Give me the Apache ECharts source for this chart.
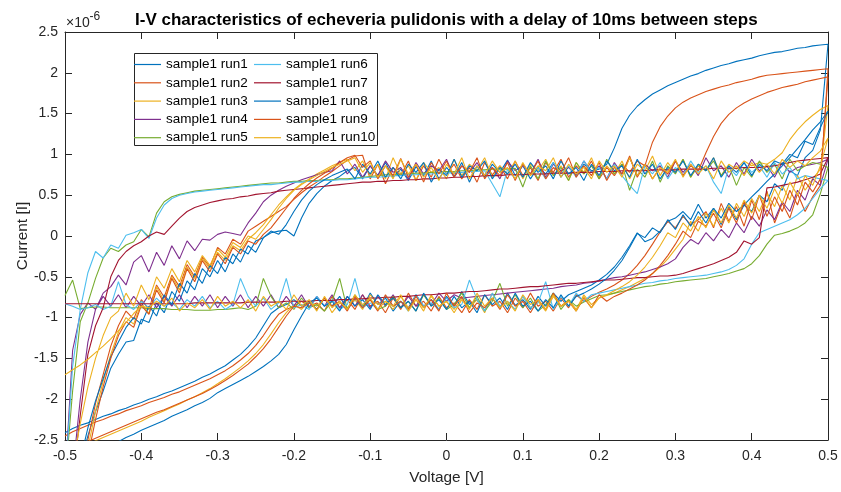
<!DOCTYPE html>
<html>
<head>
<meta charset="utf-8">
<title>I-V characteristics</title>
<script src="https://cdn.jsdelivr.net/npm/echarts@6/dist/echarts.min.js"></script>
<style>
  html, body { margin: 0; padding: 0; background: #fff; }
  #chart { width: 841px; height: 492px; }
</style>
</head>
<body>
<div id="chart"></div>
<script>
// Sweep voltage steps [V]; the forward sweep walks this list upward,
// the reverse sweep walks it back down.
const voltageSteps = [
  -0.50, -0.49, -0.48, -0.47, -0.46, -0.45, -0.44, -0.43, -0.42, -0.41,
  -0.40, -0.39, -0.38, -0.37, -0.36, -0.35, -0.34, -0.33, -0.32, -0.31,
  -0.30, -0.29, -0.28, -0.27, -0.26, -0.25, -0.24, -0.23, -0.22, -0.21,
  -0.20, -0.19, -0.18, -0.17, -0.16, -0.15, -0.14, -0.13, -0.12, -0.11,
  -0.10, -0.09, -0.08, -0.07, -0.06, -0.05, -0.04, -0.03, -0.02, -0.01,
   0.00,  0.01,  0.02,  0.03,  0.04,  0.05,  0.06,  0.07,  0.08,  0.09,
   0.10,  0.11,  0.12,  0.13,  0.14,  0.15,  0.16,  0.17,  0.18,  0.19,
   0.20,  0.21,  0.22,  0.23,  0.24,  0.25,  0.26,  0.27,  0.28,  0.29,
   0.30,  0.31,  0.32,  0.33,  0.34,  0.35,  0.36,  0.37,  0.38,  0.39,
   0.40,  0.41,  0.42,  0.43,  0.44,  0.45,  0.46,  0.47,  0.48,  0.49, 0.50
];

const runNames = [
  'sample1 run1', 'sample1 run2', 'sample1 run3', 'sample1 run4', 'sample1 run5',
  'sample1 run6', 'sample1 run7', 'sample1 run8', 'sample1 run9', 'sample1 run10'
];

// Measured current in units of 1e-6 A.
// *Up: forward sweep (-0.5 V -> 0.5 V), *Down: reverse sweep (0.5 V -> -0.5 V).
const run1Up = [
  -3.00, -3.00, -2.80, -2.45, -2.15, -1.90, -1.62, -1.45, -1.30, -1.28,
  -1.02, -1.06, -0.82, -0.94, -0.68, -0.80, -0.55, -0.66, -0.40, -0.50,
  -0.30, -0.44, -0.22, -0.32, -0.12, -0.20, -0.02,  0.04,  0.06,  0.07,
   0.00,  0.22,  0.40,  0.52,  0.61,  0.68,  0.73,  0.80,  0.84,  0.70,
   0.86,  0.74,  0.90,  0.72,  0.82,  0.68,  0.85,  0.74,  0.92,  0.70,
   0.84,  0.73,  0.90,  0.66,  0.86,  0.72,  0.88,  0.78,  0.93,  0.74,
   0.86,  0.70,  0.84,  0.76,  0.90,  0.72,  0.85,  0.74,  0.88,  0.80,
   0.82,  0.88,  1.08,  1.32,  1.48,  1.59,  1.67,  1.74,  1.79,  1.84,
   1.88,  1.92,  1.96,  1.99,  2.03,  2.06,  2.09,  2.11,  2.14,  2.16,
   2.18,  2.21,  2.23,  2.25,  2.26,  2.28,  2.30,  2.31,  2.33,  2.34, 2.35
];
const run1Down = [
   2.35,  1.30,  1.05,  0.96,  0.74,  0.80,  0.56,  0.64,  0.42,  0.50,
   0.30,  0.38,  0.20,  0.36,  0.14,  0.34,  0.22,  0.39,  0.20,  0.30,
   0.22,  0.18,  0.06, -0.03, -0.07,  0.04, -0.12, -0.26, -0.38, -0.47,
  -0.54, -0.60, -0.64, -0.68, -0.72, -0.80, -0.70, -0.86, -0.74, -0.90,
  -0.78, -0.85, -0.70, -0.88, -0.76, -0.92, -0.78, -0.84, -0.68, -0.86,
  -0.74, -0.90, -0.78, -0.86, -0.72, -0.88, -0.80, -0.92, -0.76, -0.84,
  -0.70, -0.88, -0.78, -0.90, -0.74, -0.86, -0.76, -0.90, -0.80, -0.86,
  -0.78, -0.84, -0.88, -0.95, -1.10, -1.25, -1.36, -1.45, -1.52, -1.59,
  -1.64, -1.69, -1.73, -1.78, -1.82, -1.86, -1.90, -1.93, -1.97, -2.00,
  -2.04, -2.07, -2.11, -2.14, -2.18, -2.21, -2.25, -2.29, -2.32, -2.36, -2.41
];

const run2Up = [
  -3.00, -3.00, -2.90, -2.50, -2.05, -1.70, -1.35, -1.10, -0.92, -1.02,
  -0.78, -0.90, -0.60, -0.75, -0.48, -0.62, -0.35, -0.50, -0.26, -0.38,
  -0.14, -0.22, -0.04, -0.10,  0.06,  0.12,  0.18,  0.24,  0.30,  0.36,
   0.45,  0.53,  0.60,  0.66,  0.73,  0.79,  0.86,  0.93,  0.98,  0.99,
   0.70,  0.88,  0.64,  0.84,  0.74,  0.92,  0.68,  0.86,  0.72,  0.94,
   0.76,  0.88,  0.70,  0.84,  0.66,  0.90,  0.75,  0.86,  0.70,  0.92,
   0.74,  0.84,  0.68,  0.90,  0.78,  0.94,  0.72,  0.86,  0.76,  0.92,
   0.70,  0.84,  0.74,  0.88,  0.78,  0.92,  0.86,  1.15,  1.34,  1.47,
   1.57,  1.64,  1.69,  1.73,  1.77,  1.80,  1.83,  1.85,  1.88,  1.90,
   1.92,  1.95,  1.97,  1.98,  1.99,  2.00,  2.01,  2.02,  2.03,  2.04, 2.05
];
const run2Down = [
   2.05,  0.62,  0.48,  0.30,  0.52,  0.22,  0.40,  0.16,  0.55,  0.20,
   0.44,  0.12,  0.36,  0.18,  0.40,  0.10,  0.30,  0.20,  0.14,  0.24,
   0.10,  0.18,  0.05, -0.10, -0.24, -0.36, -0.46, -0.54, -0.60, -0.65,
  -0.69, -0.74, -0.80, -0.72, -0.88, -0.76, -0.92, -0.80, -0.86, -0.70,
  -0.88, -0.76, -0.94, -0.80, -0.86, -0.72, -0.90, -0.78, -0.94, -0.82,
  -0.88, -0.74, -0.92, -0.80, -0.86, -0.70, -0.90, -0.76, -0.94, -0.80,
  -0.86, -0.72, -0.90, -0.78, -0.88, -0.74, -0.92, -0.82, -0.86, -0.80,
  -0.86, -0.90, -0.96, -1.08, -1.22, -1.34, -1.44, -1.52, -1.59, -1.65,
  -1.70, -1.75, -1.79, -1.83, -1.87, -1.91, -1.94, -1.98, -2.01, -2.04,
  -2.08, -2.11, -2.14, -2.18, -2.21, -2.25, -2.28, -2.32, -2.36, -2.40, -2.45
];

const run3Up = [
  -3.00, -3.00, -3.00, -2.60, -2.15, -1.78, -1.45, -1.18, -1.00, -1.08,
  -0.82, -0.95, -0.62, -0.80, -0.50, -0.66, -0.38, -0.52, -0.28, -0.40,
  -0.20, -0.30, -0.12, -0.18, -0.04,  0.04,  0.14,  0.26,  0.38,  0.48,
   0.57,  0.64,  0.70,  0.76,  0.81,  0.86,  0.90,  0.94,  0.80,  0.92,
   0.74,  0.88,  0.70,  0.96,  0.76,  0.86,  0.68,  0.90,  0.78,  0.84,
   0.70,  0.94,  0.74,  0.88,  0.80,  0.96,  0.72,  0.86,  0.76,  0.92,
   0.70,  0.88,  0.80,  0.94,  0.74,  0.86,  0.68,  0.90,  0.78,  0.96,
   0.72,  0.86,  0.76,  0.92,  0.70,  0.88,  0.80,  0.98,  0.74,  0.90,
   0.78,  0.94,  0.72,  0.86,  0.80,  0.96,  0.74,  0.88,  0.82,  0.92,
   0.86,  0.90,  0.88,  0.94,  1.02,  1.18,  1.30,  1.40,  1.48,  1.55, 1.60
];
const run3Down = [
   1.60,  0.82,  0.70,  0.56,  0.74,  0.44,  0.62,  0.36,  0.52,  0.30,
   0.46,  0.24,  0.40,  0.16,  0.34,  0.12,  0.28,  0.06,  0.18, -0.04,
  -0.16, -0.28, -0.38, -0.46, -0.52, -0.57, -0.62, -0.66, -0.70, -0.73,
  -0.76, -0.84, -0.72, -0.90, -0.78, -0.86, -0.74, -0.92, -0.80, -0.88,
  -0.74, -0.90, -0.82, -0.86, -0.70, -0.94, -0.78, -0.88, -0.76, -0.90,
  -0.80, -0.86, -0.72, -0.92, -0.78, -0.88, -0.74, -0.90, -0.80, -0.84,
  -0.72, -0.90, -0.78, -0.88, -0.82, -0.94, -0.76, -0.86, -0.80, -0.90,
  -0.84, -0.94, -1.06, -1.20, -1.33, -1.44, -1.53, -1.61, -1.68, -1.75,
  -1.81, -1.87, -1.92, -1.97, -2.01, -2.06, -2.10, -2.14, -2.18, -2.22,
  -2.27, -2.31, -2.35, -2.39, -2.43, -2.47, -2.51, -2.56, -2.60, -2.65, -2.70
];

const run4Up = [
  -3.00, -2.90, -2.00, -1.30, -0.90, -0.70, -0.62, -0.48, -0.60, -0.32,
  -0.24, -0.44, -0.20, -0.36, -0.12, -0.28, -0.06, -0.18, -0.04, -0.05,
   0.02,  0.05,  0.03,  0.01,  0.16,  0.28,  0.42,  0.50,  0.56,  0.61,
   0.65,  0.69,  0.72,  0.75,  0.78,  0.80,  0.92,  0.76,  0.88,  0.72,
   0.86,  0.74,  0.92,  0.78,  0.84,  0.70,  0.90,  0.76,  0.86,  0.80,
   0.94,  0.72,  0.86,  0.78,  0.90,  0.74,  0.84,  0.70,  0.92,  0.80,
   0.86,  0.76,  0.94,  0.72,  0.88,  0.80,  0.84,  0.74,  0.92,  0.78,
   0.86,  0.70,  0.90,  0.76,  0.96,  0.74,  0.88,  0.80,  0.86,  0.72,
   0.92,  0.78,  0.88,  0.74,  0.96,  0.80,  0.86,  0.72,  0.90,  0.76,
   0.94,  0.80,  0.86,  0.72,  0.90,  0.78,  0.84,  0.86,  0.88,  0.90, 0.94
];
const run4Down = [
   0.94,  0.62,  0.70,  0.44,  0.56,  0.30,  0.42,  0.20,  0.32,  0.12,
   0.24,  0.04,  0.16, -0.02,  0.08, -0.06,  0.04, -0.10, -0.04, -0.14,
  -0.28, -0.34, -0.38, -0.41, -0.44, -0.46, -0.48, -0.50, -0.51, -0.53,
  -0.55, -0.57, -0.58, -0.60, -0.61, -0.62, -0.64, -0.65, -0.66, -0.67,
  -0.68, -0.69, -0.70, -0.71, -0.72, -0.73, -0.74, -0.75, -0.76, -0.72,
  -0.80, -0.70, -0.84, -0.72, -0.86, -0.74, -0.88, -0.72, -0.86, -0.74,
  -0.88, -0.72, -0.86, -0.74, -0.88, -0.72, -0.86, -0.74, -0.88, -0.72,
  -0.86, -0.74, -0.88, -0.72, -0.86, -0.74, -0.88, -0.72, -0.86, -0.74,
  -0.88, -0.72, -0.86, -0.74, -0.88, -0.72, -0.86, -0.74, -0.88, -0.72,
  -0.86, -0.74, -0.88, -0.72, -0.86, -0.74, -0.90, -0.82, -0.96, -1.40, -3.00
];

const run5Up = [
  -3.00, -1.90, -1.05, -0.82, -0.52, -0.27, -0.15, -0.19, -0.11, -0.07,
   0.08, -0.01,  0.28,  0.42,  0.48,  0.51,  0.53,  0.55,  0.56,  0.57,
   0.58,  0.59,  0.60,  0.61,  0.62,  0.63,  0.64,  0.65,  0.65,  0.66,
   0.67,  0.67,  0.68,  0.68,  0.69,  0.69,  0.70,  0.70,  0.71,  0.72,
   0.73,  0.74,  0.75,  0.75,  0.76,  0.76,  0.77,  0.77,  0.78,  0.78,
   0.79,  0.79,  0.80,  0.80,  0.81,  0.81,  0.82,  0.82,  0.82,  0.83,
   0.60,  0.86,  0.70,  0.92,  0.74,  0.84,  0.68,  0.90,  0.76,  0.86,
   0.70,  0.94,  0.76,  0.88,  0.56,  0.82,  0.72,  0.92,  0.66,  0.86,
   0.76,  0.94,  0.72,  0.88,  0.80,  0.92,  0.74,  0.86,  0.62,  0.84,
   0.72,  0.92,  0.78,  0.88,  0.70,  0.94,  0.80,  0.86,  0.90,  0.88, 0.84
];
const run5Down = [
   0.84,  0.52,  0.26,  0.16,  0.10,  0.06,  0.03,  0.01, -0.10, -0.24,
  -0.34, -0.40, -0.43, -0.46, -0.48, -0.50, -0.52, -0.53, -0.54, -0.55,
  -0.56, -0.58, -0.59, -0.61, -0.62, -0.64, -0.66, -0.68, -0.70, -0.72,
  -0.73, -0.77, -0.81, -0.86, -0.78, -0.90, -0.70, -0.84, -0.92, -0.76,
  -0.88, -0.72, -0.86, -0.58, -0.80, -0.92, -0.74, -0.88, -0.70, -0.84,
  -0.90, -0.76, -0.86, -0.72, -0.92, -0.80, -0.88, -0.74, -0.86, -0.90,
  -0.78, -0.86, -0.72, -0.90, -0.52, -0.80, -0.92, -0.84, -0.88, -0.76,
  -0.90, -0.82, -0.88, -0.74, -0.52, -0.86, -0.90, -0.88, -0.89, -0.90,
  -0.90, -0.91, -0.91, -0.91, -0.90, -0.90, -0.90, -0.89, -0.89, -0.89,
  -0.88, -0.88, -0.88, -0.88, -0.88, -0.87, -0.87, -0.88, -0.89, -0.54, -0.73
];

const run6Up = [
  -3.00, -1.60, -0.90, -0.45, -0.19, -0.27, -0.11, -0.15,  0.01,  0.04,
   0.08, -0.03,  0.22,  0.38,  0.46,  0.50,  0.52,  0.54,  0.55,  0.56,
   0.57,  0.58,  0.59,  0.60,  0.61,  0.62,  0.63,  0.63,  0.64,  0.65,
   0.66,  0.66,  0.67,  0.67,  0.68,  0.68,  0.69,  0.69,  0.70,  0.71,
   0.72,  0.72,  0.73,  0.74,  0.74,  0.75,  0.75,  0.76,  0.76,  0.77,
   0.77,  0.78,  0.78,  0.79,  0.79,  0.80,  0.64,  0.48,  0.82,  0.70,
   0.88,  0.74,  0.84,  0.70,  0.90,  0.76,  0.86,  0.72,  0.92,  0.78,
   0.84,  0.70,  0.88,  0.74,  0.62,  0.52,  0.86,  0.76,  0.90,  0.70,
   0.84,  0.74,  0.92,  0.78,  0.86,  0.66,  0.52,  0.84,  0.74,  0.90,
   0.78,  0.86,  0.72,  0.90,  0.76,  0.84,  0.70,  0.74,  0.72,  0.70, 0.68
];
const run6Down = [
   0.68,  0.58,  0.46,  0.34,  0.26,  0.20,  0.16,  0.12,  0.08,  0.04,
  -0.10, -0.28, -0.36, -0.41, -0.44, -0.46, -0.48, -0.49, -0.50, -0.51,
  -0.52, -0.54, -0.55, -0.57, -0.58, -0.60, -0.62, -0.64, -0.66, -0.68,
  -0.70, -0.72, -0.80, -0.70, -0.86, -0.74, -0.90, -0.56, -0.82, -0.88,
  -0.74, -0.90, -0.80, -0.86, -0.70, -0.92, -0.78, -0.54, -0.84, -0.88,
  -0.76, -0.90, -0.82, -0.86, -0.72, -0.92, -0.80, -0.86, -0.74, -0.90,
  -0.82, -0.88, -0.52, -0.84, -0.90, -0.78, -0.86, -0.74, -0.90, -0.84,
  -0.88, -0.52, -0.82, -0.90, -0.76, -0.86, -0.74, -0.52, -0.84, -0.90,
  -0.80, -0.88, -0.74, -0.86, -0.78, -0.90, -0.82, -0.86, -0.76, -0.88,
  -0.80, -0.90, -0.84, -0.56, -0.86, -0.90, -0.84, -0.88, -0.90, -0.86, -0.83
];

const run7Up = [
  -3.00, -3.00, -2.20, -1.45, -1.10, -0.88, -0.50, -0.30, -0.19, -0.12,
  -0.07,  0.00,  0.05,  0.02,  0.12,  0.22,  0.30,  0.35,  0.38,  0.41,
   0.43,  0.45,  0.46,  0.48,  0.49,  0.51,  0.52,  0.53,  0.55,  0.56,
   0.57,  0.58,  0.59,  0.60,  0.61,  0.62,  0.63,  0.64,  0.65,  0.66,
   0.66,  0.67,  0.67,  0.68,  0.68,  0.69,  0.69,  0.70,  0.70,  0.71,
   0.71,  0.72,  0.72,  0.73,  0.73,  0.74,  0.74,  0.74,  0.75,  0.75,
   0.75,  0.76,  0.76,  0.76,  0.77,  0.77,  0.77,  0.78,  0.78,  0.78,
   0.79,  0.79,  0.79,  0.80,  0.80,  0.80,  0.80,  0.81,  0.81,  0.81,
   0.81,  0.82,  0.82,  0.82,  0.82,  0.83,  0.83,  0.83,  0.83,  0.84,
   0.84,  0.84,  0.85,  0.86,  0.88,  0.90,  0.92,  0.93,  0.94,  0.95, 0.96
];
const run7Down = [
   0.96,  0.76,  0.72,  0.69,  0.66,  0.64,  0.62,  0.60,  0.59, -0.02,
  -0.10, -0.06, -0.20, -0.26, -0.30, -0.34, -0.37, -0.40, -0.43, -0.46,
  -0.48, -0.49, -0.49, -0.50, -0.51, -0.51, -0.52, -0.53, -0.54, -0.54,
  -0.55, -0.56, -0.57, -0.58, -0.58, -0.59, -0.60, -0.61, -0.62, -0.62,
  -0.63, -0.64, -0.65, -0.65, -0.66, -0.67, -0.68, -0.68, -0.69, -0.70,
  -0.70, -0.71, -0.72, -0.72, -0.73, -0.74, -0.74, -0.75, -0.75, -0.76,
  -0.76, -0.77, -0.77, -0.78, -0.78, -0.79, -0.79, -0.79, -0.80, -0.80,
  -0.80, -0.80, -0.81, -0.81, -0.81, -0.81, -0.81, -0.82, -0.82, -0.82,
  -0.82, -0.82, -0.82, -0.82, -0.83, -0.83, -0.83, -0.83, -0.83, -0.83,
  -0.83, -0.83, -0.83, -0.83, -0.83, -0.83, -0.83, -0.83, -0.83, -0.83, -0.83
];

const run8Up = [
  -3.00, -3.00, -2.75, -2.35, -2.02, -1.75, -1.48, -1.30, -1.12, -1.00,
  -1.08, -0.86, -0.98, -0.72, -0.84, -0.58, -0.70, -0.46, -0.58, -0.36,
  -0.46, -0.26, -0.34, -0.16, -0.22, -0.06, -0.02,  0.06,  0.02,  0.14,
   0.30,  0.44,  0.55,  0.63,  0.69,  0.74,  0.78,  0.82,  0.70,  0.88,
   0.76,  0.92,  0.72,  0.84,  0.70,  0.88,  0.78,  0.90,  0.66,  0.82,
   0.74,  0.94,  0.72,  0.86,  0.80,  0.92,  0.70,  0.84,  0.76,  0.88,
   0.72,  0.90,  0.78,  0.86,  0.70,  0.92,  0.76,  0.84,  0.68,  0.88,
   0.74,  0.92,  0.80,  0.86,  0.72,  0.94,  0.76,  0.88,  0.70,  0.84,
   0.78,  0.92,  0.74,  0.88,  0.80,  0.96,  0.72,  0.86,  0.78,  0.90,
   0.74,  0.88,  0.80,  0.92,  0.88,  1.00,  0.96,  1.16,  1.12,  1.33, 1.53
];
const run8Down = [
   1.53,  1.40,  1.30,  1.18,  1.07,  0.96,  0.86,  0.76,  0.67,  0.57,
   0.48,  0.38,  0.30,  0.40,  0.22,  0.34,  0.16,  0.30,  0.12,  0.26,
   0.08,  0.20,  0.04,  0.10, -0.02,  0.03, -0.14, -0.30, -0.42, -0.52,
  -0.59, -0.65, -0.70, -0.74, -0.86, -0.72, -0.88, -0.78, -0.92, -0.80,
  -0.86, -0.70, -0.90, -0.76, -0.84, -0.72, -0.94, -0.80, -0.88, -0.74,
  -0.90, -0.78, -0.86, -0.70, -0.92, -0.80, -0.88, -0.76, -0.84, -0.72,
  -0.90, -0.78, -0.86, -0.74, -0.92, -0.80, -0.86, -0.76, -0.82, -0.98,
  -1.15, -1.33, -1.45, -1.53, -1.60, -1.66, -1.72, -1.77, -1.82, -1.87,
  -1.92, -1.99, -2.04, -2.08, -2.13, -2.17, -2.21, -2.26, -2.30, -2.34,
  -2.38, -2.43, -2.47, -2.52, -2.56, -2.60, -2.64, -2.68, -2.72, -2.76, -2.80
];

const run9Up = [
  -3.00, -3.00, -3.00, -2.70, -2.25, -1.85, -1.50, -1.22, -1.05, -1.12,
  -0.85, -0.96, -0.66, -0.82, -0.52, -0.70, -0.40, -0.56, -0.30, -0.44,
  -0.22, -0.34, -0.14, -0.22, -0.06, -0.10,  0.02,  0.10,  0.22,  0.34,
   0.46,  0.56,  0.64,  0.71,  0.77,  0.83,  0.90,  0.96,  0.99,  0.84,
   0.92,  0.70,  0.86,  0.74,  0.95,  0.72,  0.88,  0.66,  0.90,  0.76,
   0.92,  0.72,  0.86,  0.78,  0.96,  0.70,  0.84,  0.74,  0.90,  0.68,
   0.88,  0.76,  0.92,  0.70,  0.84,  0.78,  0.96,  0.72,  0.86,  0.74,
   0.90,  0.68,  0.84,  0.76,  0.98,  0.72,  0.88,  0.70,  0.84,  0.76,
   0.92,  0.74,  0.86,  0.80,  1.02,  1.22,  1.38,  1.49,  1.57,  1.63,
   1.68,  1.72,  1.76,  1.79,  1.82,  1.84,  1.86,  1.89,  1.91,  1.93, 1.95
];
const run9Down = [
   1.95,  0.70,  0.54,  0.66,  0.38,  0.56,  0.30,  0.48,  0.24,  0.50,
   0.20,  0.42,  0.16,  0.34,  0.10,  0.28,  0.12,  0.18, -0.02,  0.06,
  -0.10, -0.24, -0.36, -0.46, -0.54, -0.60, -0.65, -0.70, -0.74, -0.80,
  -0.72, -0.88, -0.76, -0.92, -0.80, -0.86, -0.70, -0.90, -0.78, -0.94,
  -0.80, -0.86, -0.72, -0.90, -0.76, -0.88, -0.82, -0.94, -0.74, -0.86,
  -0.70, -0.92, -0.78, -0.88, -0.74, -0.90, -0.80, -0.86, -0.72, -0.92,
  -0.78, -0.88, -0.74, -0.92, -0.80, -0.86, -0.76, -0.90, -0.82, -0.88,
  -0.86, -0.98, -1.12, -1.26, -1.38, -1.48, -1.57, -1.64, -1.71, -1.77,
  -1.83, -1.88, -1.93, -1.97, -2.01, -2.05, -2.09, -2.13, -2.16, -2.20,
  -2.24, -2.28, -2.32, -2.36, -2.40, -2.44, -2.48, -2.52, -2.56, -2.60, -2.64
];

const run10Up = [
  -3.00, -2.80, -2.30, -1.85, -1.50, -1.22, -1.00, -0.92, -0.70, -0.86,
  -0.60, -0.78, -0.50, -0.64, -0.40, -0.56, -0.30, -0.44, -0.24, -0.36,
  -0.16, -0.26, -0.08, -0.14,  0.00, -0.04,  0.08,  0.20,  0.34,  0.46,
   0.56,  0.63,  0.69,  0.74,  0.79,  0.84,  0.88,  0.92,  0.96,  0.78,
   0.90,  0.72,  0.86,  0.70,  0.94,  0.76,  0.88,  0.72,  0.84,  0.68,
   0.88,  0.76,  0.96,  0.70,  0.86,  0.74,  0.92,  0.78,  0.84,  0.70,
   0.90,  0.74,  0.86,  0.80,  0.96,  0.72,  0.88,  0.76,  0.84,  0.70,
   0.92,  0.78,  0.86,  0.72,  0.96,  0.74,  0.88,  0.70,  0.84,  0.78,
   0.94,  0.72,  0.88,  0.76,  0.86,  0.70,  0.92,  0.78,  0.86,  0.74,
   0.90,  0.78,  0.88,  0.76,  0.94,  0.84,  0.92,  0.86,  0.96,  1.04, 1.20
];
const run10Down = [
   1.20,  0.86,  0.62,  0.74,  0.50,  0.66,  0.40,  0.58,  0.34,  0.50,
   0.28,  0.44,  0.22,  0.38,  0.16,  0.32,  0.10,  0.24,  0.06,  0.16,
  -0.02,  0.04, -0.12, -0.26, -0.38, -0.48, -0.56, -0.62, -0.67, -0.72,
  -0.76, -0.88, -0.74, -0.92, -0.80, -0.86, -0.72, -0.90, -0.78, -0.84,
  -0.72, -0.92, -0.80, -0.88, -0.76, -0.86, -0.70, -0.90, -0.78, -0.94,
  -0.80, -0.86, -0.74, -0.88, -0.78, -0.92, -0.72, -0.86, -0.80, -0.90,
  -0.76, -0.84, -0.72, -0.90, -0.80, -0.88, -0.74, -0.92, -0.78, -0.86,
  -0.72, -0.90, -0.80, -0.86, -0.74, -0.92, -0.78, -0.88, -0.80, -0.86,
  -0.74, -0.90, -0.78, -0.88, -0.82, -0.92, -0.76, -0.86, -0.80, -0.88,
  -0.86, -0.95, -1.06, -1.16, -1.26, -1.35, -1.43, -1.51, -1.58, -1.64, -1.70
];

const sweepUp = [run1Up, run2Up, run3Up, run4Up, run5Up, run6Up, run7Up, run8Up, run9Up, run10Up];
const sweepDown = [run1Down, run2Down, run3Down, run4Down, run5Down, run6Down, run7Down, run8Down, run9Down, run10Down];

// MATLAB default line colour order
const palette = ['#0072BD', '#D95319', '#EDB120', '#7E2F8E', '#77AC30', '#4DBEEE', '#A2142F'];

const FONT = '"Liberation Sans", Arial, Helvetica, sans-serif';
const AXIS_COLOR = '#262626';

// One closed loop per run: forward sweep, then the reverse sweep.
function loopPoints(up, down) {
  const pts = [];
  up.forEach((v, i) => pts.push([voltageSteps[i], v]));
  const n = voltageSteps.length - 1;
  down.forEach((v, j) => pts.push([voltageSteps[n - j], v]));
  return pts;
}

const series = runNames.map((name, k) => ({
  name: name,
  type: 'line',
  data: loopPoints(sweepUp[k], sweepDown[k]),
  showSymbol: false,
  symbol: 'none',
  clip: true,
  lineStyle: { width: 1.1, color: palette[k % palette.length] },
  itemStyle: { color: palette[k % palette.length] },
  emphasis: { disabled: true },
  animation: false
}));

const tickStyle = { show: true, inside: true, length: 7, lineStyle: { color: AXIS_COLOR, width: 1 } };
const lineStyleAxis = { show: true, onZero: false, lineStyle: { color: AXIS_COLOR, width: 1 } };
const labelStyle = { color: AXIS_COLOR, fontSize: 14, fontFamily: FONT };

const legendText = { fontSize: 13.5, fontFamily: FONT, color: '#000' };
const legendCommon = {
  orient: 'vertical',
  icon: 'rect',
  itemWidth: 27,
  itemHeight: 1.2,
  itemGap: 4.3,
  padding: 0,
  textStyle: legendText,
  selectedMode: false
};

const option = {
  backgroundColor: '#ffffff',
  animation: false,
  title: {
    text: 'I-V characteristics of echeveria pulidonis with a delay of 10ms between steps',
    left: 130,
    top: 7,
    textStyle: { fontSize: 17, fontWeight: 'bold', fontFamily: FONT, color: '#000' }
  },
  grid: { left: 65, right: 13, top: 32, bottom: 52, containLabel: false },
  xAxis: [
    {
      type: 'value', min: -0.5, max: 0.5, interval: 0.1,
      name: 'Voltage [V]', nameLocation: 'middle', nameGap: 30,
      nameTextStyle: { fontSize: 15.4, fontFamily: FONT, color: AXIS_COLOR },
      axisLine: lineStyleAxis, axisTick: tickStyle,
      axisLabel: Object.assign({ margin: 9 }, labelStyle),
      splitLine: { show: false }
    },
    {
      type: 'value', min: -0.5, max: 0.5, interval: 0.1, position: 'top',
      axisLine: lineStyleAxis, axisTick: tickStyle,
      axisLabel: { show: false }, splitLine: { show: false }
    }
  ],
  yAxis: [
    {
      type: 'value', min: -2.5, max: 2.5, interval: 0.5,
      name: 'Current [I]', nameLocation: 'middle', nameGap: 35, nameMoveOverlap: false,
      nameTextStyle: { fontSize: 15.4, fontFamily: FONT, color: AXIS_COLOR },
      axisLine: lineStyleAxis, axisTick: tickStyle,
      axisLabel: Object.assign({ margin: 7 }, labelStyle),
      splitLine: { show: false }
    },
    {
      type: 'value', min: -2.5, max: 2.5, interval: 0.5, position: 'right',
      axisLine: lineStyleAxis, axisTick: tickStyle,
      axisLabel: { show: false }, splitLine: { show: false }
    }
  ],
  legend: [
    Object.assign({ left: 134, top: 57.5, data: runNames.slice(0, 5) }, legendCommon),
    Object.assign({ left: 254, top: 57.5, data: runNames.slice(5, 10) }, legendCommon)
  ],
  graphic: [
    {
      type: 'rect', z: 3, silent: true,
      shape: { x: 134.5, y: 53.5, width: 243, height: 92 },
      style: { fill: '#ffffff', stroke: AXIS_COLOR, lineWidth: 1 }
    },
    {
      type: 'text', z: 5, silent: true, x: 66, y: 23,
      style: { text: '\u00d710', font: '14px ' + FONT, fill: AXIS_COLOR, textVerticalAlign: 'middle', verticalAlign: 'middle' }
    },
    {
      type: 'text', z: 5, silent: true, x: 89.5, y: 16.5,
      style: { text: '-6', font: '12px ' + FONT, fill: AXIS_COLOR, textVerticalAlign: 'middle', verticalAlign: 'middle' }
    }
  ],
  series: series
};

const chart = echarts.init(document.getElementById('chart'), null, { renderer: 'canvas' });
chart.setOption(option);
</script>
</body>
</html>
